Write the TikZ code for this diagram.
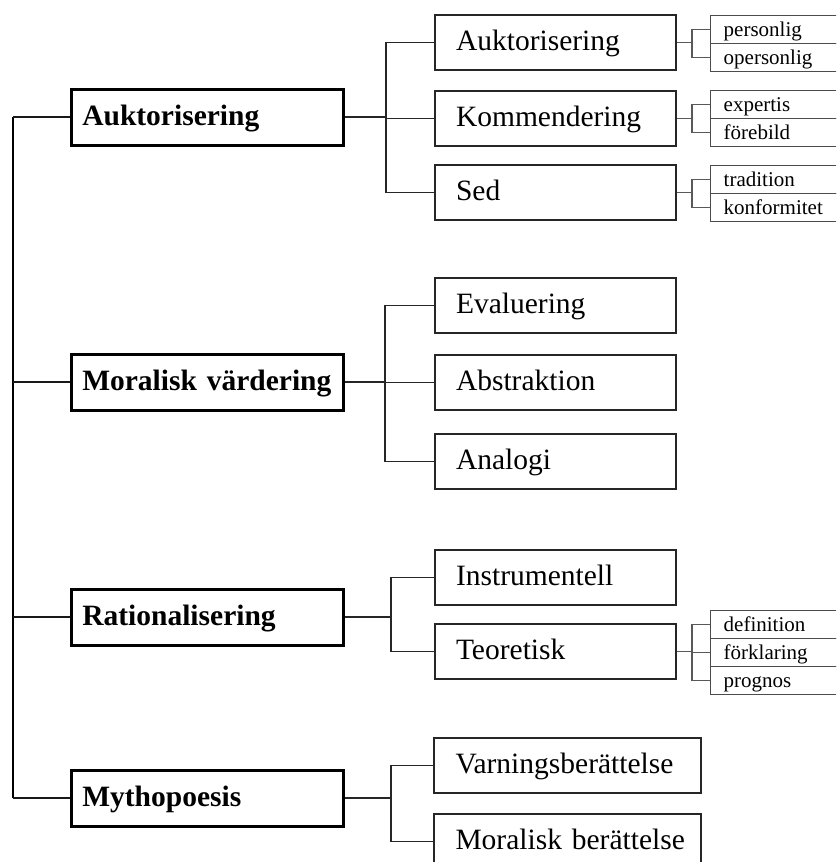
\documentclass[tikz,border=0pt]{standalone}
\usepackage{fontspec}
\setmainfont{Liberation Serif}
\begin{document}
\begin{tikzpicture}[x=1pt,y=-1pt,
  lone/.style={draw=black, line width=2.6pt, rectangle, anchor=north west,
    minimum height=56, inner xsep=11, inner ysep=0, text width=250, align=left,
    font=\fontsize{29.5}{32}\selectfont\bfseries, text height=22, text depth=6},
  ltwo/.style={draw=black!85, line width=2pt, rectangle, anchor=north west,
    minimum height=55, inner xsep=21, inner ysep=0, text width=199, align=left,
    font=\fontsize{29.5}{32}\selectfont, text height=22, text depth=6},
  lthree/.style={draw=black!70, line width=1.4pt, rectangle, anchor=north west,
    minimum height=28, inner xsep=13, inner ysep=0, text width=130, align=left,
    font=\fontsize{21}{23}\selectfont, text height=16, text depth=3},
  spineline/.style={draw=black, line width=2.8pt},
  onewire/.style={draw=black!90, line width=2.2pt},
  twowire/.style={draw=black!85, line width=1.8pt},
  threewire/.style={draw=black!65, line width=1.3pt}
]
\useasboundingbox (0,0) rectangle (836,862);
\clip (0,0) rectangle (836,862);

% level 1
\node[lone] (A1) at (70,88) {Auktorisering};
\node[lone] (M1) at (70,353) {Moralisk värdering};
\node[lone] (R1) at (70,588) {Rationalisering};
\node[lone] (Y1) at (70,769) {Mythopoesis};

% level 2
\node[ltwo] (A2) at (434,14) {Auktorisering};
\node[ltwo] (K2) at (434,90) {Kommendering};
\node[ltwo] (S2) at (434,164) {Sed};
\node[ltwo] (E2) at (434,277) {Evaluering};
\node[ltwo] (B2) at (434,354) {Abstraktion};
\node[ltwo] (N2) at (434,433) {Analogi};
\node[ltwo] (I2) at (434,549) {Instrumentell};
\node[ltwo] (T2) at (434,623) {Teoretisk};
\node[ltwo, text width=246, inner xsep=10.5] (V2) at (433,737) {\hspace*{11pt}Varningsberättelse};
\node[ltwo, text width=246, inner xsep=10.5] (W2) at (433,813) {\hspace*{11pt}Moralisk berättelse};

% level 3
\node[lthree] (P3) at (710,15) {personlig};
\node[lthree] (O3) at (710,43) {opersonlig};
\node[lthree] (X3) at (710,90) {expertis};
\node[lthree] (F3) at (710,118) {förebild};
\node[lthree] (Tr3) at (710,165) {tradition};
\node[lthree] (Ko3) at (710,193) {konformitet};
\node[lthree] (D3) at (710,610) {definition};
\node[lthree] (Fk3) at (710,638) {förklaring};
\node[lthree] (Pr3) at (710,666) {prognos};

% fork x positions
\coordinate (sp) at (13,0);
\coordinate (fa) at (386,0);
\coordinate (fm) at (385,0);
\coordinate (fr) at (391,0);
\coordinate (fy) at (391,0);
\coordinate (g) at (692,0);

% spine
\draw[spineline] (A1.west -| sp) -- (Y1.west -| sp);
\draw[onewire] (A1.west) -- (A1.west -| sp);
\draw[onewire] (M1.west) -- (M1.west -| sp);
\draw[onewire] (R1.west) -- (R1.west -| sp);
\draw[onewire] (Y1.west) -- (Y1.west -| sp);

% level 1 -> level 2
\draw[twowire] (A1.east) -- (A1.east -| fa);
\draw[twowire] (A2.west) -- (A2.west -| fa) -- (S2.west -| fa) -- (S2.west);
\draw[twowire] (K2.west) -- (K2.west -| fa);

\draw[twowire] (M1.east) -- (M1.east -| fm);
\draw[twowire] (E2.west) -- (E2.west -| fm) -- (N2.west -| fm) -- (N2.west);
\draw[twowire] (B2.west) -- (B2.west -| fm);

\draw[twowire] (R1.east) -- (R1.east -| fr);
\draw[twowire] (I2.west) -- (I2.west -| fr) -- (T2.west -| fr) -- (T2.west);

\draw[twowire] (Y1.east) -- (Y1.east -| fy);
\draw[twowire] (V2.west) -- (V2.west -| fy) -- (W2.west -| fy) -- (W2.west);

% level 2 -> level 3
\draw[threewire] (A2.east) -- (A2.east -| g);
\draw[threewire] (P3.west) -- (P3.west -| g) -- (O3.west -| g) -- (O3.west);
\draw[threewire] (K2.east) -- (K2.east -| g);
\draw[threewire] (X3.west) -- (X3.west -| g) -- (F3.west -| g) -- (F3.west);
\draw[threewire] (S2.east) -- (S2.east -| g);
\draw[threewire] (Tr3.west) -- (Tr3.west -| g) -- (Ko3.west -| g) -- (Ko3.west);
\draw[threewire] (T2.east) -- (T2.east -| g);
\draw[threewire] (D3.west) -- (D3.west -| g) -- (Pr3.west -| g) -- (Pr3.west);
\draw[threewire] (Fk3.west) -- (Fk3.west -| g);
\end{tikzpicture}
\end{document}
